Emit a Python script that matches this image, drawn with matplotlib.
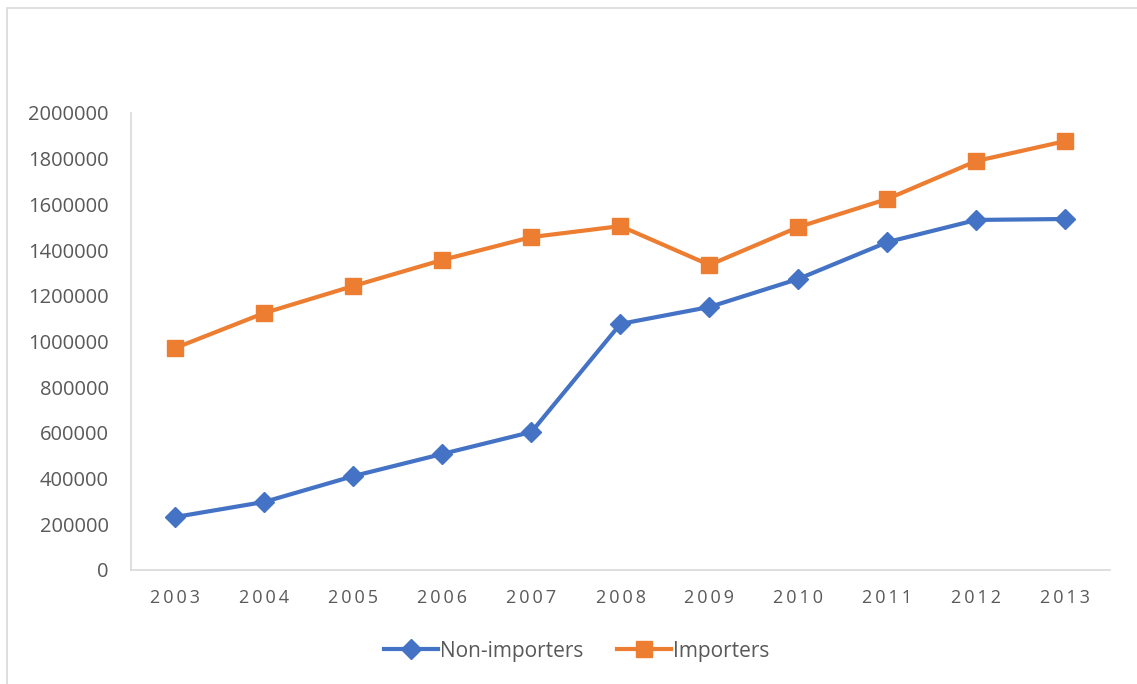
import numpy as np
import matplotlib.pyplot as plt
from matplotlib.patches import Rectangle

years = ['2003', '2004', '2005', '2006', '2007', '2008', '2009', '2010', '2011', '2012', '2013']
non_importers = [232000, 298000, 411000, 508000, 604000, 1077000, 1151000, 1274000, 1435000, 1532000, 1536000]
importers = [972000, 1125000, 1243000, 1357000, 1457000, 1505000, 1335000, 1501000, 1624000, 1790000, 1877000]

plt.rcParams['font.family'] = ['Open Sans', 'DejaVu Sans']

fig = plt.figure(figsize=(11.37, 6.84), dpi=100)
ax = fig.add_axes([0.1152, 0.1667, 0.8610, 0.6681])

# light frame around the whole chart
fig.patches.append(Rectangle((7 / 1137, -0.05), 1.2, 1 - 8 / 684 + 0.05,
                             transform=fig.transFigure, fill=False,
                             edgecolor='#d9d9d9', linewidth=1.2))

x = np.arange(len(years))
ax.plot(x, non_importers, color='#4472C4', linewidth=3, marker='D',
        markersize=10, label='Non-importers')
ax.plot(x, importers, color='#ED7D31', linewidth=3, marker='s',
        markersize=11, label='Importers')

ax.set_xlim(-0.5, len(years) - 0.5)
ax.set_ylim(0, 2000000)
ax.set_yticks(np.arange(0, 2000001, 200000))
ax.set_yticklabels([str(v) for v in range(0, 2000001, 200000)])
ax.set_xticks(x)
ax.set_xticklabels(['\u2009'.join(y) for y in years])

for s in ['top', 'right']:
    ax.spines[s].set_visible(False)
for s in ['left', 'bottom']:
    ax.spines[s].set_color('#d9d9d9')
    ax.spines[s].set_linewidth(1.2)

ax.tick_params(axis='both', length=0, colors='#595959')
ax.tick_params(axis='x', pad=14, labelsize=13)
ax.tick_params(axis='y', pad=16, labelsize=14.5)

ax.legend(loc='center', bbox_to_anchor=(577 / 1137, 33 / 684), bbox_transform=fig.transFigure,
          ncol=2, frameon=False, fontsize=15, labelcolor='#595959',
          handlelength=2.6, handletextpad=0.1, columnspacing=1.6)

fig.savefig('out.png', dpi=100)
